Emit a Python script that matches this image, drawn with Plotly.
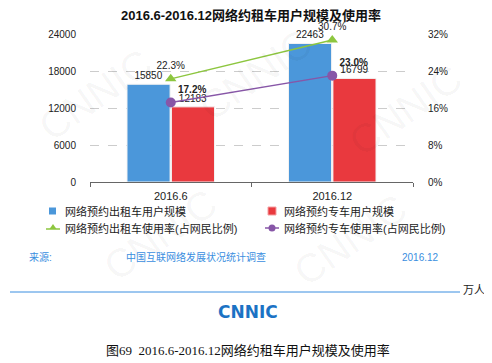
import plotly.graph_objects as go

categories = ["2016.6", "2016.12"]
taxi_users = [15850, 22463]
special_users = [12183, 16799]
taxi_rate = [0.223, 0.307]
special_rate = [0.172, 0.230]
left_ticks = [0, 6000, 12000, 18000, 24000]
right_ticks = [0, 0.08, 0.16, 0.24, 0.32]
series_names = ["网络预约出租车用户规模", "网络预约专车用户规模",
                "网络预约出租车使用率(占网民比例)", "网络预约专车使用率(占网民比例)"]

# page body has an 8px default margin: draw a 484x355 figure that lands on 8..492 x 8..363
OFF = 8
W, H = 492 - OFF, 363 - OFF
L, R, T, B = 90, 413, 34, 182  # plot area in window pixels
def px(x):
    return (x - L) / (R - L)
def py(y):
    return (B - y) / (B - T)

FONT = "Liberation Sans, Arial, Noto Sans CJK SC, sans-serif"
BLUE = "#4b97da"
RED = "#e9393e"
GREEN = "#8dc63f"
PURPLE = "#8756a7"
SRC = "#3a8ee0"

fig = go.Figure()
fig.add_trace(go.Bar(x=categories, y=taxi_users, name=series_names[0],
                     marker=dict(color=BLUE, line=dict(color="#f2f2f2", width=1)),
                     text=[str(v) for v in taxi_users], textposition="outside",
                     textfont=dict(size=10, color="#222"), cliponaxis=False))
fig.add_trace(go.Bar(x=categories, y=special_users, name=series_names[1],
                     marker=dict(color=RED, line=dict(color="#f2f2f2", width=1)),
                     text=[str(v) for v in special_users], textposition="outside",
                     textfont=dict(size=10, color="#222"), cliponaxis=False))
fig.add_trace(go.Scatter(x=categories, y=taxi_rate, name=series_names[2],
                         yaxis="y2", mode="lines+markers+text",
                         line=dict(color=GREEN, width=1.5),
                         marker=dict(symbol="triangle-up", size=10, color=GREEN),
                         text=[f"{v*100:.1f}%" for v in taxi_rate], textposition="top center",
                         textfont=dict(size=10, color="#222"), cliponaxis=False))
fig.add_trace(go.Scatter(x=categories, y=special_rate, name=series_names[3],
                         yaxis="y2", mode="lines+markers+text",
                         line=dict(color=PURPLE, width=1.5),
                         marker=dict(symbol="circle", size=10, color=PURPLE),
                         text=[f"<b>{v*100:.1f}%</b>" for v in special_rate], textposition="top right",
                         textfont=dict(size=10, color="#222"), cliponaxis=False))

def ann(x, y, text, size, color="#222", family=FONT, xanchor="center", **kw):
    return dict(x=px(x), y=py(y), xref="paper", yref="paper", text=text, showarrow=False,
                xanchor=xanchor, yanchor="middle", font=dict(size=size, color=color, family=family), **kw)

annotations = []
# faint watermark
for (wx, wy) in [(95, 95), (255, 75), (405, 110), (160, 235), (350, 240)]:
    annotations.append(ann(wx, wy, "CNNIC", 40, color="rgba(0,0,0,0.045)", textangle=-35))
annotations += [
    ann(251, 16, "<b>2016.6-2016.12网络约租车用户规模及使用率</b>", 13, color="#111"),
    ann(27, 257, "来源:", 10, color=SRC, xanchor="left"),
    ann(124, 257, "中国互联网络发展状况统计调查", 10, color=SRC, xanchor="left"),
    ann(400, 257, "2016.12", 10, color=SRC, xanchor="left"),
    ann(461, 290, "万人", 11, xanchor="left"),
    ann(248, 312, "<b>CNNIC</b>", 17, color="#1b72c4", family="DejaVu Sans, sans-serif"),
    ann(248, 350, "图69  2016.6-2016.12网络约租车用户规模及使用率", 13, color="#111",
        family="Liberation Serif, Noto Sans CJK SC, serif"),
]

shapes = [dict(type="line", xref="paper", yref="paper", x0=px(10), x1=px(460), y0=py(292), y1=py(292),
               line=dict(color=SRC, width=1))]

# manual legend (2 columns x 2 rows)
leg_pos = [(53, 211), (272, 211), (53, 228), (272, 228)]
for i, name in enumerate(series_names):
    cx, cy = leg_pos[i]
    annotations.append(ann(cx + 10, cy, name, 11, xanchor="left"))
shapes.append(dict(type="rect", xref="paper", yref="paper", x0=px(49), x1=px(56), y0=py(207.5), y1=py(214.5),
                   fillcolor=BLUE, line=dict(width=0)))
shapes.append(dict(type="rect", xref="paper", yref="paper", x0=px(268), x1=px(276), y0=py(207), y1=py(215),
                   fillcolor=RED, line=dict(color="#f4a0a2", width=1)))
shapes.append(dict(type="line", xref="paper", yref="paper", x0=px(46), x1=px(60), y0=py(229), y1=py(229),
                   line=dict(color=GREEN, width=1.5)))
shapes.append(dict(type="path", xref="paper", yref="paper",
                   path=f"M {px(49.5)},{py(229)} L {px(56.5)},{py(229)} L {px(53)},{py(224)} Z",
                   fillcolor=GREEN, line=dict(width=0)))
shapes.append(dict(type="line", xref="paper", yref="paper", x0=px(265), x1=px(279), y0=py(228), y1=py(228),
                   line=dict(color=PURPLE, width=1.5)))
shapes.append(dict(type="circle", xref="paper", yref="paper", x0=px(268.5), x1=px(275.5), y0=py(224.5), y1=py(231.5),
                   fillcolor=PURPLE, line=dict(width=0)))

fig.update_layout(
    width=W, height=H,
    margin=dict(l=L - OFF, r=492 - R, t=T - OFF, b=363 - B, pad=0, autoexpand=False),
    paper_bgcolor="white", plot_bgcolor="white",
    font=dict(family=FONT, size=10, color="#222"),
    barmode="group", bargap=0.45, bargroupgap=0.03,
    showlegend=False,
    xaxis=dict(showline=True, linecolor="#666", linewidth=1, ticks="outside", tickcolor="#666",
               ticklen=4, tickson="boundaries", showgrid=False, tickfont=dict(size=11),
               ticklabelstandoff=4, automargin=False),
    yaxis=dict(range=[0, 24000], tickvals=left_ticks, ticktext=[str(v) for v in left_ticks],
               showgrid=True, gridcolor="#cccccc",
               griddash="dash", zeroline=False, showline=False, ticklabelstandoff=13,
               tickfont=dict(size=10), automargin=False),
    yaxis2=dict(range=[0, 0.32], tickvals=right_ticks, tickformat=".0%", overlaying="y", side="right",
                showgrid=False, zeroline=False, showline=False, ticklabelstandoff=14,
                tickfont=dict(size=10), automargin=False),
    annotations=annotations, shapes=shapes,
)
fig.write_html("out.html")
